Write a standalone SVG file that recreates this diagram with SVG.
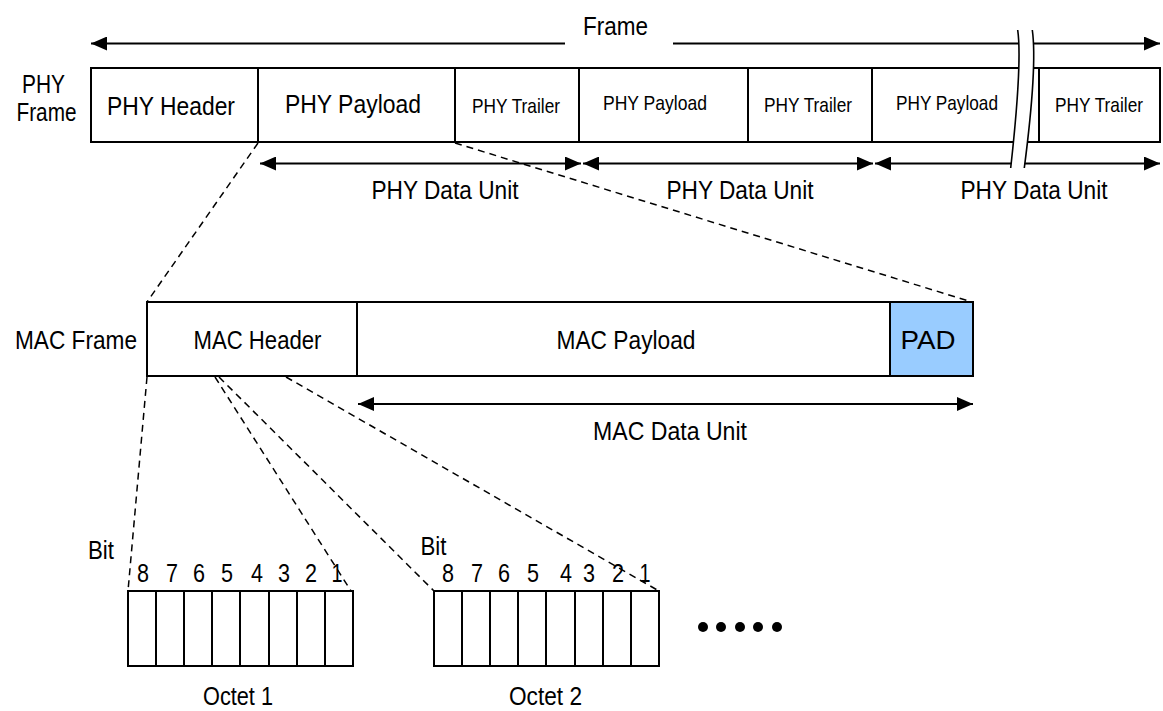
<svg xmlns="http://www.w3.org/2000/svg" width="1163" height="711" viewBox="0 0 1163 711">
<style>
text{font-family:"Liberation Sans",Arial,sans-serif;fill:#000}
.b{font-size:25.5px}
.s{font-size:21px}
.m{text-anchor:middle}
.e{text-anchor:end}
.box{fill:#fff;stroke:#000;stroke-width:2}
.dv{stroke:#000;stroke-width:2}
.arr{stroke:#000;stroke-width:2;fill:none}
.dash{stroke:#000;stroke-width:1.5;stroke-dasharray:7 5;fill:none}
.brk{fill:none;stroke:#000;stroke-width:1.6}
</style>
<defs>
<marker id="ah" markerUnits="userSpaceOnUse" markerWidth="17" markerHeight="14" refX="16" refY="7" orient="auto-start-reverse" viewBox="0 0 17 14">
<path d="M0,0 L16,7 L0,14 z" fill="#000"/>
</marker>
</defs>
<rect width="1163" height="711" fill="#fff"/>

<g id="connectors">
<path class="dash" d="M258,143 L147,302"/>
<path class="dash" d="M455,143 L972,302"/>
<path class="dash" d="M147,377 L128,591"/>
<path class="dash" d="M215,377 L351,591"/>
<path class="dash" d="M219,377 L434,591"/>
<path class="dash" d="M286,377 L659,591"/>
<line class="arr" x1="565" y1="43.5" x2="91" y2="43.5" marker-end="url(#ah)"/>
<line class="arr" x1="673" y1="43.5" x2="1160" y2="43.5" marker-end="url(#ah)"/>
<line class="arr" x1="260" y1="163.5" x2="581" y2="163.5" marker-start="url(#ah)" marker-end="url(#ah)"/>
<line class="arr" x1="583" y1="163.5" x2="873" y2="163.5" marker-start="url(#ah)" marker-end="url(#ah)"/>
<line class="arr" x1="875" y1="163.5" x2="1160" y2="163.5" marker-start="url(#ah)" marker-end="url(#ah)"/>
<line class="arr" x1="358" y1="404" x2="973" y2="404" marker-start="url(#ah)" marker-end="url(#ah)"/>
</g>

<g id="frame-label"><text class="b m" x="615.5" y="35" textLength="65" lengthAdjust="spacingAndGlyphs">Frame</text></g>

<g id="phy-frame">
<text class="b m" x="43.5" y="93" textLength="43" lengthAdjust="spacingAndGlyphs">PHY</text>
<text class="b m" x="46.5" y="121" textLength="60" lengthAdjust="spacingAndGlyphs">Frame</text>
<rect class="box" x="91" y="68" width="1069" height="74"/>
<line class="dv" x1="258" y1="68" x2="258" y2="142"/>
<line class="dv" x1="455" y1="68" x2="455" y2="142"/>
<line class="dv" x1="579" y1="68" x2="579" y2="142"/>
<line class="dv" x1="748" y1="68" x2="748" y2="142"/>
<line class="dv" x1="872" y1="68" x2="872" y2="142"/>
<line class="dv" x1="1039" y1="68" x2="1039" y2="142"/>
<text class="b m" x="171" y="115" textLength="128" lengthAdjust="spacingAndGlyphs">PHY Header</text>
<text class="b m" x="353" y="113" textLength="136" lengthAdjust="spacingAndGlyphs">PHY Payload</text>
<text class="s m" x="516" y="113" textLength="88" lengthAdjust="spacingAndGlyphs">PHY Trailer</text>
<text class="s m" x="655" y="110" textLength="104" lengthAdjust="spacingAndGlyphs">PHY Payload</text>
<text class="s m" x="808" y="112" textLength="88" lengthAdjust="spacingAndGlyphs">PHY Trailer</text>
<text class="s m" x="947" y="110" textLength="102" lengthAdjust="spacingAndGlyphs">PHY Payload</text>
<text class="s m" x="1099" y="112" textLength="88" lengthAdjust="spacingAndGlyphs">PHY Trailer</text>
</g>

<g id="break">
<path d="M1017.7,30 C1022,60 1016,120 1010.7,168 L1024.3,168 C1030.5,120 1036.5,60 1032.3,30 Z" fill="#fff"/>
<path class="brk" d="M1017.7,30 C1022,60 1016,120 1010.7,168"/>
<path class="brk" d="M1032.3,30 C1036.5,60 1030.5,120 1024.3,168"/>
</g>

<g id="phy-data-units">
<text class="b m" x="445" y="199" textLength="147" lengthAdjust="spacingAndGlyphs">PHY Data Unit</text>
<text class="b m" x="740" y="199" textLength="147" lengthAdjust="spacingAndGlyphs">PHY Data Unit</text>
<text class="b m" x="1034" y="199" textLength="147" lengthAdjust="spacingAndGlyphs">PHY Data Unit</text>
</g>

<g id="mac-frame">
<text class="b e" x="137" y="349" textLength="122" lengthAdjust="spacingAndGlyphs">MAC Frame</text>
<rect class="box" x="147" y="302" width="826" height="74"/>
<rect x="890" y="302" width="83" height="74" fill="#99CCFF" stroke="#000" stroke-width="2"/>
<line class="dv" x1="357" y1="302" x2="357" y2="376"/>
<text class="b m" x="257.5" y="349" textLength="128" lengthAdjust="spacingAndGlyphs">MAC Header</text>
<text class="b m" x="626" y="349" textLength="139" lengthAdjust="spacingAndGlyphs">MAC Payload</text>
<text class="b m" x="928" y="349" textLength="55" lengthAdjust="spacingAndGlyphs">PAD</text>
</g>

<g id="mac-data-unit"><text class="b m" x="670" y="440" textLength="154" lengthAdjust="spacingAndGlyphs">MAC Data Unit</text></g>

<g id="octet1">
<text class="b m" x="101" y="559" textLength="26" lengthAdjust="spacingAndGlyphs">Bit</text>
<text class="b m" x="143" y="582" textLength="12" lengthAdjust="spacingAndGlyphs">8</text>
<text class="b m" x="172" y="582" textLength="12" lengthAdjust="spacingAndGlyphs">7</text>
<text class="b m" x="199" y="582" textLength="12" lengthAdjust="spacingAndGlyphs">6</text>
<text class="b m" x="227" y="582" textLength="12" lengthAdjust="spacingAndGlyphs">5</text>
<text class="b m" x="257" y="582" textLength="12" lengthAdjust="spacingAndGlyphs">4</text>
<text class="b m" x="284" y="582" textLength="12" lengthAdjust="spacingAndGlyphs">3</text>
<text class="b m" x="311" y="582" textLength="12" lengthAdjust="spacingAndGlyphs">2</text>
<text class="b m" x="337" y="582" textLength="11" lengthAdjust="spacingAndGlyphs">1</text>
<rect class="box" x="128" y="591" width="225" height="75"/>
<path class="dv" d="M156,591V666M184,591V666M212,591V666M240,591V666M269,591V666M297,591V666M325,591V666"/>
<text class="b m" x="238" y="705" textLength="70" lengthAdjust="spacingAndGlyphs">Octet 1</text>
</g>

<g id="octet2">
<text class="b m" x="433.5" y="555" textLength="26" lengthAdjust="spacingAndGlyphs">Bit</text>
<text class="b m" x="448" y="582" textLength="12" lengthAdjust="spacingAndGlyphs">8</text>
<text class="b m" x="477" y="582" textLength="12" lengthAdjust="spacingAndGlyphs">7</text>
<text class="b m" x="504" y="582" textLength="12" lengthAdjust="spacingAndGlyphs">6</text>
<text class="b m" x="533" y="582" textLength="12" lengthAdjust="spacingAndGlyphs">5</text>
<text class="b m" x="566" y="582" textLength="12" lengthAdjust="spacingAndGlyphs">4</text>
<text class="b m" x="589" y="582" textLength="12" lengthAdjust="spacingAndGlyphs">3</text>
<text class="b m" x="618" y="582" textLength="12" lengthAdjust="spacingAndGlyphs">2</text>
<text class="b m" x="645" y="582" textLength="11" lengthAdjust="spacingAndGlyphs">1</text>
<rect class="box" x="434" y="591" width="225" height="75"/>
<path class="dv" d="M462,591V666M490,591V666M518,591V666M546,591V666M575,591V666M603,591V666M631,591V666"/>
<text class="b m" x="545.5" y="705" textLength="73" lengthAdjust="spacingAndGlyphs">Octet 2</text>
</g>

<g id="ellipsis" fill="#000">
<circle cx="703" cy="627" r="5"/>
<circle cx="721" cy="627" r="5"/>
<circle cx="740" cy="627" r="5"/>
<circle cx="758" cy="627" r="5"/>
<circle cx="777" cy="627" r="5"/>
</g>
</svg>
